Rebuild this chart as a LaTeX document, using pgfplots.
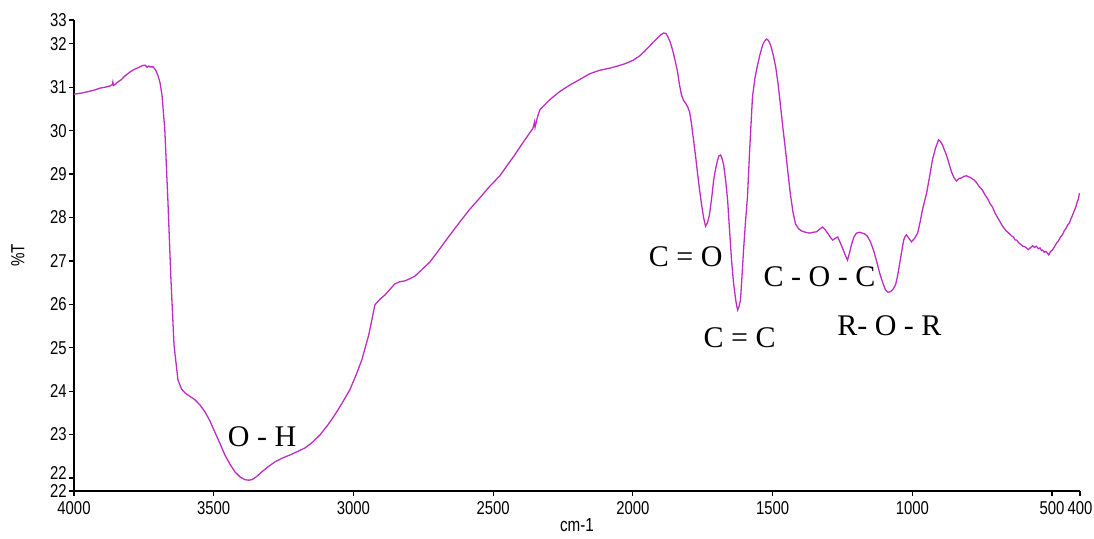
\documentclass[border=0pt]{standalone}
\usepackage{fontspec}
\setmainfont{Liberation Sans}
\newfontfamily\annfont{Liberation Serif}
\newfontfamily\condsans[FakeStretch=0.8]{Liberation Sans}
\usepackage{pgfplots}
\pgfplotsset{compat=1.18}
\definecolor{ftir}{RGB}{190,45,195}
\begin{document}
\begin{tikzpicture}
\begin{axis}[
  scale only axis,
  width=503pt, height=235.5pt,
  x dir=reverse,
  xmin=400, xmax=4000,
  ymin=21.7, ymax=32.55,
  axis lines=left,
  axis line style={-, black, line width=0.6pt},
  tick style={black, line width=0.6pt},
  tick align=outside,
  major tick length=2.5pt,
  xtick={4000,3500,3000,2500,2000,1500,1000,500,400},
  ytick={21.7,23,24,25,26,27,28,29,30,31,32,32.55},
  yticklabels={22,23,24,25,26,27,28,29,30,31,32,33},
  extra y ticks={22},
  extra y tick labels={22},
  extra y tick style={yticklabel style={yshift=2.5pt}},
  /pgf/number format/1000 sep={},
  /pgf/number format/assume math mode=true,
  tick label style={font=\condsans\fontsize{9.3}{10}\selectfont, inner sep=1pt},
  xticklabel style={yshift=-1.5pt},
  xlabel={cm-1},
  ylabel={\%T},
  xlabel style={font=\condsans\fontsize{9.5}{10}\selectfont, at={(axis description cs:0.5,0)}, anchor=center, yshift=-17pt},
  ylabel style={font=\condsans\fontsize{9.5}{10}\selectfont, at={(axis description cs:-0.0557,0.5)}, anchor=center, rotate=0},
  clip=false,
]
\addplot[color=ftir, line width=0.65pt] coordinates {
(4000,30.84) (3970,30.87) (3943,30.91) (3925,30.94) (3907,30.98) (3890,31.00) (3871,31.03)
(3863,31.06) (3861,31.12) (3859,31.04) (3850,31.08) (3843,31.12) (3830,31.18) (3818,31.26)
(3800,31.35) (3782,31.42) (3764,31.47) (3755,31.50) (3746,31.51) (3738,31.46) (3732,31.49)
(3728,31.47) (3717,31.47) (3708,31.40) (3700,31.28) (3692,31.10) (3685,30.82) (3675,30.02)
(3664,28.40) (3653,26.56) (3642,25.06) (3628,24.26) (3615,24.05) (3603,23.96) (3585,23.88)
(3567,23.80) (3549,23.68) (3531,23.52) (3514,23.32) (3496,23.06) (3478,22.80) (3460,22.53)
(3442,22.32) (3424,22.14) (3405,22.02) (3388,21.96) (3375,21.95) (3363,21.96) (3345,22.04)
(3328,22.14) (3305,22.26) (3281,22.37) (3254,22.46) (3227,22.53) (3200,22.61) (3174,22.69)
(3147,22.82) (3120,22.99) (3094,23.20) (3067,23.45) (3040,23.73) (3013,24.03) (2990,24.38)
(2970,24.72) (2945,25.30) (2923,25.99) (2905,26.12) (2888,26.21) (2870,26.34) (2852,26.47)
(2835,26.52) (2816,26.54) (2798,26.59) (2780,26.65) (2755,26.80) (2727,26.97) (2700,27.20)
(2673,27.44) (2645,27.68) (2619,27.90) (2585,28.18) (2548,28.45) (2512,28.72) (2476,28.96)
(2450,29.20) (2423,29.44) (2396,29.70) (2369,29.95) (2358,30.05) (2352,30.20) (2350,30.08)
(2342,30.30) (2333,30.48) (2315,30.60) (2298,30.71) (2262,30.90) (2226,31.05) (2190,31.18)
(2155,31.31) (2120,31.39) (2083,31.44) (2055,31.49) (2029,31.54) (2000,31.62) (1976,31.72)
(1958,31.83) (1940,31.95) (1925,32.05) (1911,32.14) (1900,32.21) (1890,32.25) (1882,32.24)
(1876,32.18) (1867,32.05) (1858,31.86) (1849,31.62) (1840,31.35) (1833,31.05) (1826,30.82)
(1819,30.70) (1812,30.64) (1804,30.55) (1797,30.43) (1790,30.15) (1783,29.79) (1775,29.38)
(1768,28.98) (1761,28.62) (1754,28.29) (1747,28.00) (1740,27.80) (1733,27.88) (1726,28.06)
(1718,28.45) (1711,28.86) (1704,29.12) (1697,29.32) (1692,29.42) (1686,29.44) (1681,29.36)
(1675,29.21) (1668,28.85) (1661,28.40) (1654,27.70) (1647,27.02) (1640,26.50) (1632,26.10)
(1628,25.95) (1625,25.87) (1620,25.95) (1615,26.10) (1610,26.60) (1604,27.25) (1597,27.90)
(1590,28.47) (1581,29.70) (1572,30.78) (1563,31.22) (1554,31.51) (1545,31.76) (1536,31.97)
(1529,32.06) (1522,32.11) (1515,32.08) (1507,31.97) (1498,31.75) (1489,31.47) (1480,31.06)
(1472,30.59) (1463,30.05) (1454,29.56) (1445,29.02) (1436,28.52) (1427,28.12) (1418,27.85)
(1407,27.74) (1396,27.69) (1382,27.66) (1368,27.64) (1355,27.66) (1343,27.67) (1332,27.73)
(1321,27.78) (1312,27.72) (1303,27.64) (1294,27.55) (1285,27.48) (1276,27.52) (1267,27.55)
(1258,27.42) (1250,27.30) (1241,27.15) (1232,27.02) (1225,27.18) (1218,27.37) (1209,27.55)
(1200,27.64) (1189,27.66) (1178,27.64) (1170,27.62) (1161,27.57) (1150,27.44) (1139,27.25)
(1128,27.00) (1117,26.72) (1106,26.50) (1096,26.33) (1087,26.28) (1078,26.29) (1069,26.35)
(1060,26.45) (1053,26.65) (1046,26.91) (1038,27.22) (1031,27.48) (1026,27.56) (1021,27.60)
(1012,27.52) (1003,27.44) (992,27.52) (981,27.64) (972,27.90) (964,28.17) (956,28.38)
(949,28.56) (938,28.95) (928,29.33) (917,29.60) (906,29.79) (899,29.75) (892,29.67)
(885,29.55) (878,29.44) (869,29.25) (860,29.05) (851,28.92) (842,28.84) (833,28.90)
(824,28.91) (815,28.95) (806,28.96) (792,28.92) (778,28.86) (770,28.80) (764,28.74)
(756,28.68) (749,28.63) (740,28.52) (731,28.44) (722,28.32) (713,28.24) (704,28.10)
(695,28.00) (686,27.90) (677,27.80) (670,27.74) (664,27.69) (658,27.66) (652,27.62)
(645,27.58) (638,27.55) (632,27.48) (627,27.48) (620,27.42) (612,27.38) (605,27.34)
(598,27.33) (592,27.30) (585,27.26) (578,27.30) (570,27.35) (563,27.31) (556,27.34)
(549,27.28) (543,27.30) (538,27.24) (534,27.25) (528,27.20) (522,27.22) (517,27.18)
(512,27.14) (505,27.22) (499,27.25) (492,27.32) (484,27.41) (477,27.46) (470,27.55)
(463,27.60) (456,27.70) (450,27.75) (444,27.83) (438,27.87) (432,27.98) (427,28.05)
(421,28.15) (416,28.22) (410,28.36) (406,28.42) (402,28.56)
};
\node[font=\annfont\fontsize{15}{16}\selectfont] at (axis cs:3327,22.94) {O - H};
\node[font=\annfont\fontsize{15}{16}\selectfont] at (axis cs:1811,27.09) {C = O};
\node[font=\annfont\fontsize{15}{16}\selectfont] at (axis cs:1618,25.22) {C = C};
\node[font=\annfont\fontsize{15}{16}\selectfont] at (axis cs:1332,26.63) {C - O - C};
\node[font=\annfont\fontsize{15}{16}\selectfont] at (axis cs:1082,25.50) {R- O - R};
\end{axis}
\pgfresetboundingbox
\path ([shift={(-37pt,-23.65pt)}]current axis.south west) rectangle ([shift={(7pt,10pt)}]current axis.north east);
\end{tikzpicture}
\end{document}
